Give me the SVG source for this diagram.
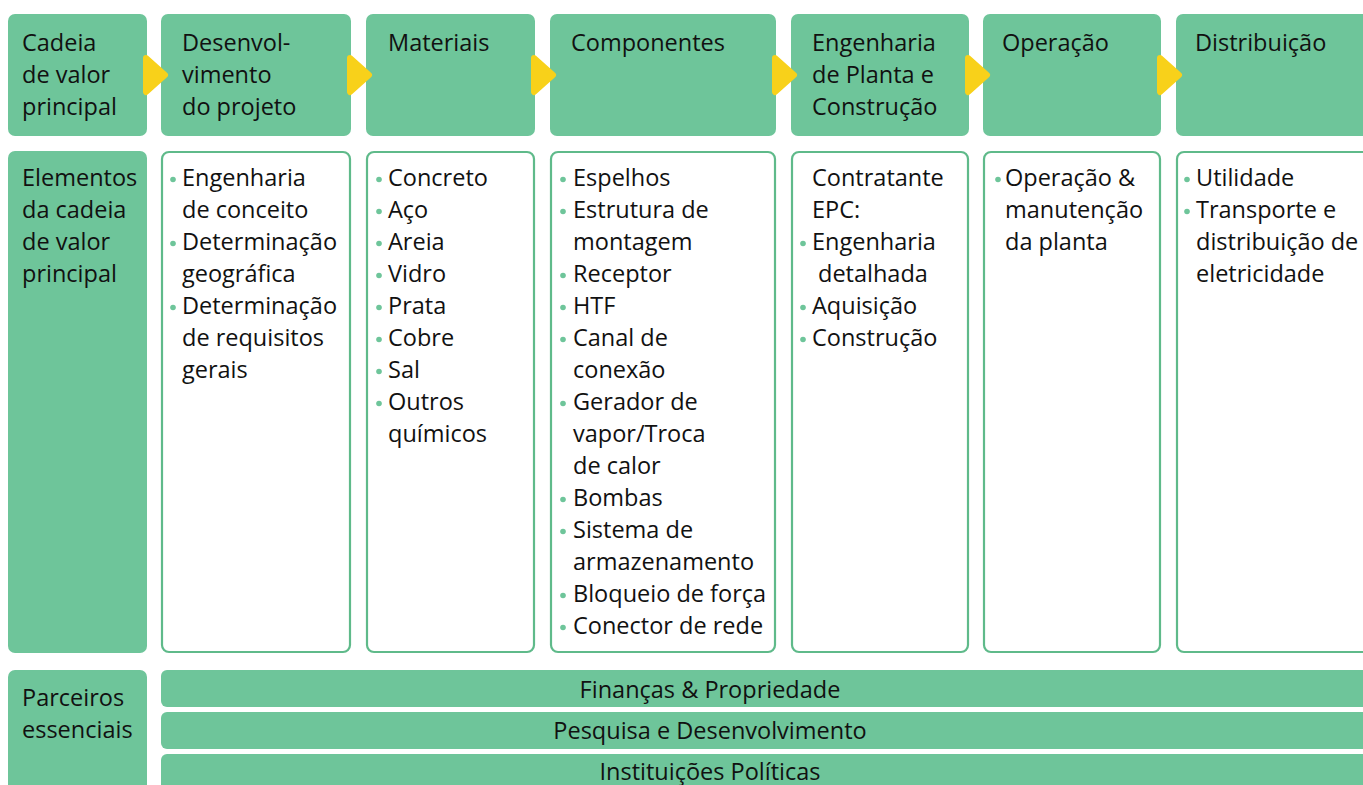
<svg xmlns="http://www.w3.org/2000/svg" width="1363" height="785" viewBox="0 0 1363 785">
<style>
.g{fill:#6EC59A}
.w{fill:#fff;stroke:#5FBA8A;stroke-width:2.2}
.t{font-family:"Open Sans","Noto Sans","Liberation Sans",sans-serif;font-size:23.5px;fill:#111}
.c{text-anchor:middle}
.d{fill:#6EC59A}
.ar{fill:#F8D11A;stroke:#F8D11A;stroke-width:6;stroke-linejoin:round}
</style>
<rect width="1363" height="785" fill="#fff"/>
<g id="header-row">
<g id="h0"><rect class="g" x="8" y="14" width="139" height="122" rx="7"/>
<text class="t" x="22" y="51">Cadeia</text><text class="t" x="22" y="83">de valor</text><text class="t" x="22" y="115">principal</text></g>
<g id="h1"><rect class="g" x="161" y="14" width="190" height="122" rx="7"/>
<text class="t" x="182" y="51">Desenvol-</text><text class="t" x="182" y="83">vimento</text><text class="t" x="182" y="115">do projeto</text></g>
<g id="h2"><rect class="g" x="366" y="14" width="169" height="122" rx="7"/>
<text class="t" x="388" y="51">Materiais</text></g>
<g id="h3"><rect class="g" x="550" y="14" width="226" height="122" rx="7"/>
<text class="t" x="571" y="51">Componentes</text></g>
<g id="h4"><rect class="g" x="791" y="14" width="178" height="122" rx="7"/>
<text class="t" x="812" y="51">Engenharia</text><text class="t" x="812" y="83">de Planta e</text><text class="t" x="812" y="115">Construção</text></g>
<g id="h5"><rect class="g" x="983" y="14" width="178" height="122" rx="7"/>
<text class="t" x="1002" y="51">Operação</text></g>
<g id="h6"><rect class="g" x="1176" y="14" width="200" height="122" rx="7"/>
<text class="t" x="1195" y="51">Distribuição</text></g>
</g>
<g id="connectors">
<polygon class="ar" points="146,58 165,75 146,92"/>
<polygon class="ar" points="350,58 369,75 350,92"/>
<polygon class="ar" points="534,58 553,75 534,92"/>
<polygon class="ar" points="775,58 794,75 775,92"/>
<polygon class="ar" points="968,58 987,75 968,92"/>
<polygon class="ar" points="1160,58 1179,75 1160,92"/>
</g>
<g id="elements-row">
<g id="e0"><rect class="g" x="8" y="151" width="139" height="502" rx="7"/>
<text class="t" x="22" y="186">Elementos</text><text class="t" x="22" y="218">da cadeia</text><text class="t" x="22" y="250">de valor</text><text class="t" x="22" y="282">principal</text></g>
<g id="e1"><rect class="w" x="162" y="152" width="188" height="500" rx="7"/>
<circle class="d" cx="173" cy="179.5" r="2.8"/><text class="t" x="182" y="186">Engenharia</text>
<text class="t" x="182" y="218">de conceito</text>
<circle class="d" cx="173" cy="243.5" r="2.8"/><text class="t" x="182" y="250">Determinação</text>
<text class="t" x="182" y="282">geográfica</text>
<circle class="d" cx="173" cy="307.5" r="2.8"/><text class="t" x="182" y="314">Determinação</text>
<text class="t" x="182" y="346">de requisitos</text>
<text class="t" x="182" y="378">gerais</text></g>
<g id="e2"><rect class="w" x="367" y="152" width="167" height="500" rx="7"/>
<circle class="d" cx="379" cy="179.5" r="2.8"/><text class="t" x="388" y="186">Concreto</text>
<circle class="d" cx="379" cy="211.5" r="2.8"/><text class="t" x="388" y="218">Aço</text>
<circle class="d" cx="379" cy="243.5" r="2.8"/><text class="t" x="388" y="250">Areia</text>
<circle class="d" cx="379" cy="275.5" r="2.8"/><text class="t" x="388" y="282">Vidro</text>
<circle class="d" cx="379" cy="307.5" r="2.8"/><text class="t" x="388" y="314">Prata</text>
<circle class="d" cx="379" cy="339.5" r="2.8"/><text class="t" x="388" y="346">Cobre</text>
<circle class="d" cx="379" cy="371.5" r="2.8"/><text class="t" x="388" y="378">Sal</text>
<circle class="d" cx="379" cy="403.5" r="2.8"/><text class="t" x="388" y="410">Outros</text>
<text class="t" x="388" y="442">químicos</text></g>
<g id="e3"><rect class="w" x="551" y="152" width="224" height="500" rx="7"/>
<circle class="d" cx="563" cy="179.5" r="2.8"/><text class="t" x="573" y="186">Espelhos</text>
<circle class="d" cx="563" cy="211.5" r="2.8"/><text class="t" x="573" y="218">Estrutura de</text>
<text class="t" x="573" y="250">montagem</text>
<circle class="d" cx="563" cy="275.5" r="2.8"/><text class="t" x="573" y="282">Receptor</text>
<circle class="d" cx="563" cy="307.5" r="2.8"/><text class="t" x="573" y="314">HTF</text>
<circle class="d" cx="563" cy="339.5" r="2.8"/><text class="t" x="573" y="346">Canal de</text>
<text class="t" x="573" y="378">conexão</text>
<circle class="d" cx="563" cy="403.5" r="2.8"/><text class="t" x="573" y="410">Gerador de</text>
<text class="t" x="573" y="442">vapor/Troca</text>
<text class="t" x="573" y="474">de calor</text>
<circle class="d" cx="563" cy="499.5" r="2.8"/><text class="t" x="573" y="506">Bombas</text>
<circle class="d" cx="563" cy="531.5" r="2.8"/><text class="t" x="573" y="538">Sistema de</text>
<text class="t" x="573" y="570">armazenamento</text>
<circle class="d" cx="563" cy="595.5" r="2.8"/><text class="t" x="573" y="602">Bloqueio de força</text>
<circle class="d" cx="563" cy="627.5" r="2.8"/><text class="t" x="573" y="634">Conector de rede</text></g>
<g id="e4"><rect class="w" x="792" y="152" width="176" height="500" rx="7"/>
<text class="t" x="812" y="186">Contratante</text>
<text class="t" x="812" y="218">EPC:</text>
<circle class="d" cx="803" cy="243.5" r="2.8"/><text class="t" x="812" y="250">Engenharia</text>
<text class="t" x="818" y="282">detalhada</text>
<circle class="d" cx="803" cy="307.5" r="2.8"/><text class="t" x="812" y="314">Aquisição</text>
<circle class="d" cx="803" cy="339.5" r="2.8"/><text class="t" x="812" y="346">Construção</text></g>
<g id="e5"><rect class="w" x="984" y="152" width="176" height="500" rx="7"/>
<circle class="d" cx="998" cy="179.5" r="2.8"/><text class="t" x="1005" y="186">Operação &amp;</text>
<text class="t" x="1005" y="218">manutenção</text>
<text class="t" x="1005" y="250">da planta</text></g>
<g id="e6"><rect class="w" x="1177" y="152" width="200" height="500" rx="7"/>
<circle class="d" cx="1187" cy="179.5" r="2.8"/><text class="t" x="1196" y="186">Utilidade</text>
<circle class="d" cx="1187" cy="211.5" r="2.8"/><text class="t" x="1196" y="218">Transporte e</text>
<text class="t" x="1196" y="250">distribuição de</text>
<text class="t" x="1196" y="282">eletricidade</text></g>
</g>
<g id="partners-row">
<g id="p0"><rect class="g" x="8" y="670" width="139" height="130" rx="7"/>
<text class="t" x="22" y="706">Parceiros</text><text class="t" x="22" y="738">essenciais</text></g>
<g id="p1"><rect class="g" x="161" y="670" width="1220" height="37" rx="6"/>
<text class="t c" x="710" y="698">Finanças &amp; Propriedade</text></g>
<g id="p2"><rect class="g" x="161" y="712" width="1220" height="37" rx="6"/>
<text class="t c" x="710" y="739">Pesquisa e Desenvolvimento</text></g>
<g id="p3"><rect class="g" x="161" y="754" width="1220" height="45" rx="6"/>
<text class="t c" x="710" y="780">Instituições Políticas</text></g>
</g>
</svg>
